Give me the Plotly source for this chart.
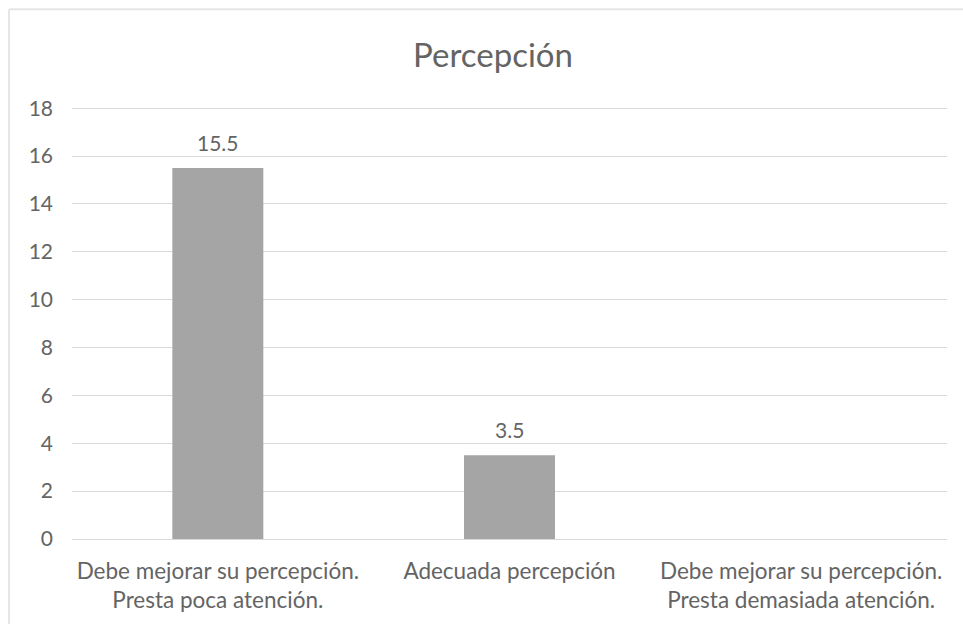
import plotly.graph_objects as go

categories = [
    "Debe mejorar su percepción.<br>Presta poca atención.",
    "Adecuada percepción",
    "Debe mejorar su percepción.<br>Presta demasiada atención.",
]
values = [15.5, 3.5, None]
y_ticks = [0, 2, 4, 6, 8, 10, 12, 14, 16, 18]
y_range = [0, 18.05]

TEXT = "#646464"
GRID = "#d9d9d9"
BAR = "#a5a5a5"
FONT = "Lato"

fig = go.Figure(
    go.Bar(
        x=categories,
        y=values,
        marker=dict(color=BAR, line=dict(width=0)),
        hoverinfo="skip",
    )
)

# value labels above each bar
for cat, val in zip(categories, values):
    if val:
        fig.add_annotation(
            x=cat, y=val, text=f"{val:g}", showarrow=False,
            yanchor="bottom", yshift=11,
            font=dict(family=FONT, size=21, color=TEXT),
        )

# plot box geometry (pixels)
W, H = 963, 624
L, R, B = 72, 16, 85
unit = 431 / 18
T = H - B - unit * y_range[1]
pw, ph = W - L - R, H - T - B
def px_x(p):
    return (p - L) / pw
def px_y(p):
    return (H - B - p) / ph

# light frame around the chart area
frame = dict(type="line", xref="paper", yref="paper",
             line=dict(color="#e6e6e6", width=2), layer="below")
fig.add_shape(**frame, x0=px_x(9), x1=px_x(W + 5), y0=px_y(9), y1=px_y(9))
fig.add_shape(**frame, x0=px_x(9), x1=px_x(9), y0=px_y(9), y1=px_y(H + 5))

fig.update_layout(
    width=W, height=H,
    margin=dict(l=L, r=R, t=T, b=B, pad=0, autoexpand=False),
    paper_bgcolor="white", plot_bgcolor="white",
    bargap=0.688,
    showlegend=False,
    font=dict(family=FONT, size=21, color=TEXT),
    title=dict(
        text="Percepción", x=493 / W, xanchor="center",
        y=1 - 55 / H, yanchor="middle", xref="container", yref="container",
        font=dict(family=FONT, size=33, color=TEXT),
    ),
    xaxis=dict(
        showgrid=False, showline=False, zeroline=False, ticks="",
        tickfont=dict(family=FONT, size=22.5, color=TEXT),
        ticklabelstandoff=16, automargin=False,
        fixedrange=True,
    ),
    yaxis=dict(
        range=y_range, tickvals=y_ticks, showgrid=True, gridcolor=GRID,
        gridwidth=1, zeroline=True, zerolinecolor=GRID, zerolinewidth=1,
        showline=False, ticks="", ticklabelstandoff=18, automargin=False,
        tickfont=dict(family=FONT, size=21, color=TEXT),
        fixedrange=True,
    ),
)

fig.write_html("out.html")
